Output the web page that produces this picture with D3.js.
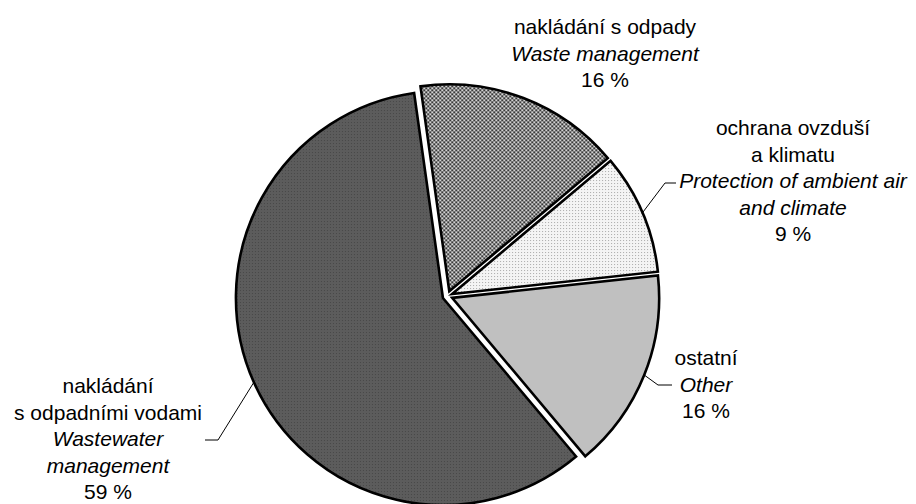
<!DOCTYPE html>
<html>
<head>
<meta charset="utf-8">
<script src="https://cdn.jsdelivr.net/npm/d3@7"></script>
<style>
  body { margin: 0; background: #fff; }
  text { font-family: "Liberation Sans", Arial, sans-serif; font-size: 21px; fill: #000; }
  .en { font-style: italic; }
</style>
</head>
<body>
<div class="chart"></div>
<script>
var svgWidth = 916;
var svgHeight = 504;

// data (clockwise from top)
var labelsCz = [["nakládání s odpady"], ["ochrana ovzduší", "a klimatu"], ["ostatní"], ["nakládání", "s odpadními vodami"]];
var labelsEn = [["Waste management"], ["Protection of ambient air", "and climate"], ["Other"], ["Wastewater", "management"]];
var shares = [16.1, 9.4, 15.6, 58.9];
var shareLabels = ["16 %", "9 %", "16 %", "59 %"];

// layout
var center = [447.5, 296];
var radius = 207;
var explode = 5;
var startDeg = -8;
var fills = ["url(#checker)", "url(#dots)", "#c0c0c0", "url(#dark)"];
var labelPos = [
  {x: 605, y: 34},
  {x: 793, y: 135},
  {x: 706, y: 365},
  {x: 108, y: 393}
];
var lineHeight = 26.5;
// leader elbow and end for each slice (null = no leader)
var leaders = [
  null,
  [[665, 183], [676, 183]],
  [[658, 385], [672, 385]],
  [[218, 440], [205, 440]]
];

var svg = d3.select(".chart")
  .append("svg")
  .attr("width", svgWidth)
  .attr("height", svgHeight);

// fill patterns
var defs = svg.append("defs");

var dark = defs.append("pattern")
  .attr("id", "dark")
  .attr("width", 3).attr("height", 3)
  .attr("patternUnits", "userSpaceOnUse");
dark.append("rect").attr("width", 3).attr("height", 3).attr("fill", "#5c5c5c");
dark.append("rect").attr("x", 1).attr("y", 1).attr("width", 1).attr("height", 1).attr("fill", "#474747");

var checker = defs.append("pattern")
  .attr("id", "checker")
  .attr("width", 4).attr("height", 4)
  .attr("patternUnits", "userSpaceOnUse");
checker.append("rect").attr("width", 4).attr("height", 4).attr("fill", "#d4d4d4");
checker.append("rect").attr("width", 2).attr("height", 2).attr("fill", "#383838");
checker.append("rect").attr("x", 2).attr("y", 2).attr("width", 2).attr("height", 2).attr("fill", "#383838");

var dots = defs.append("pattern")
  .attr("id", "dots")
  .attr("width", 3).attr("height", 3)
  .attr("patternUnits", "userSpaceOnUse");
dots.append("rect").attr("width", 3).attr("height", 3).attr("fill", "#f4f4f4");
dots.append("rect").attr("width", 1).attr("height", 1).attr("fill", "#a8a8a8");

var pie = d3.pie()
  .sort(null)
  .startAngle(startDeg * Math.PI / 180)
  .endAngle(startDeg * Math.PI / 180 + 2 * Math.PI)
  .value(d => d);

var arcs = pie(shares);

var arc = d3.arc().innerRadius(0).outerRadius(radius);
var edgeArc = d3.arc().innerRadius(radius).outerRadius(radius);

var pieGroup = svg.append("g")
  .attr("transform", `translate(${center[0]}, ${center[1]})`);

function offset(d) {
  var mid = (d.startAngle + d.endAngle) / 2;
  return [explode * Math.sin(mid), -explode * Math.cos(mid)];
}

pieGroup.selectAll("path.slice")
  .data(arcs)
  .enter()
  .append("path")
  .classed("slice", true)
  .attr("transform", d => `translate(${offset(d)[0]}, ${offset(d)[1]})`)
  .attr("d", arc)
  .attr("fill", (d, i) => fills[i])
  .attr("stroke", "#000")
  .attr("stroke-width", 2.6)
  .attr("stroke-linejoin", "miter");

// leader lines
arcs.forEach(function(d, i) {
  if (!leaders[i]) return;
  var o = offset(d);
  var c = edgeArc.centroid(d);
  var start = [center[0] + o[0] + c[0], center[1] + o[1] + c[1]];
  svg.append("polyline")
    .attr("points", [start, leaders[i][0], leaders[i][1]].map(p => p.join(",")).join(" "))
    .attr("fill", "none")
    .attr("stroke", "#000")
    .attr("stroke-width", 1);
});

// labels
arcs.forEach(function(d, i) {
  var lines = [];
  labelsCz[i].forEach(t => lines.push({t: t, en: false}));
  labelsEn[i].forEach(t => lines.push({t: t, en: true}));
  lines.push({t: shareLabels[i], en: false});

  var g = svg.append("g");
  g.selectAll("text")
    .data(lines)
    .enter()
    .append("text")
    .classed("en", l => l.en)
    .attr("x", labelPos[i].x)
    .attr("y", (l, j) => labelPos[i].y + j * lineHeight)
    .attr("text-anchor", "middle")
    .text(l => l.t);
});
</script>
</body>
</html>
